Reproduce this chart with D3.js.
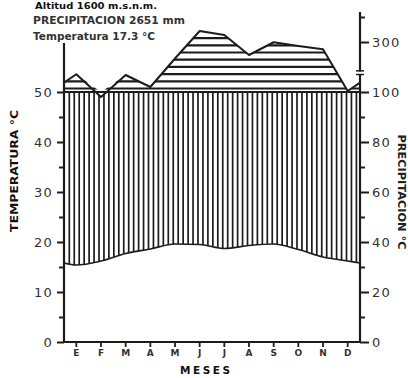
<!DOCTYPE html>
<html>
<head>
<meta charset="utf-8">
<script src="https://cdn.jsdelivr.net/npm/d3@7"></script>
<style>
  html, body { margin: 0; padding: 0; background: #fff; }
  svg { display: block; }
  text { font-family: "DejaVu Sans", "Liberation Sans", sans-serif; }
</style>
</head>
<body>
<script>
// ---- data ----
const months = ["E", "F", "M", "A", "M", "J", "J", "A", "S", "O", "N", "D"];
const temperature = [15.4, 16.2, 17.7, 18.6, 19.6, 19.5, 18.7, 19.3, 19.6, 18.5, 17.0, 16.2];
const precipitation = [171, 98, 168, 120, 234, 344, 328, 248, 299, 284, 271, 104];
const tempTicks = [0, 10, 20, 30, 40, 50];
const tempMinorTicks = [5, 15, 25, 35, 45];
const precTicks = [0, 20, 40, 60, 80, 100, 300];
const precMinorTicks = [10, 30, 50, 70, 90, 400];
const headerLines = ["Altitud 1600 m.s.n.m.", "PRECIPITACION 2651 mm", "Temperatura 17.3 °C"];

// ---- setup ----
const W = 408, H = 378;
const ink = "#1c1c1c";
const svg = d3.select("body").append("svg").attr("width", W).attr("height", H);

const x = d3.scaleLinear().domain([0, 12]).range([64, 360]);
const band = d3.scaleBand().domain(d3.range(12)).range([64, 360]);
const yT = d3.scaleLinear().domain([0, 50]).range([342, 92]);
const yP = d3.scaleLinear().domain([0, 100, 420]).range([342, 92, 12]);

// series with wrap-around edge points (Walter-Lieth convention)
const tEdge = (temperature[0] + temperature[11]) / 2;
const pEdge = (precipitation[0] + precipitation[11]) / 2;
const tSeries = [[0, tEdge]].concat(temperature.map((v, i) => [i + 0.5, v]), [[12, tEdge]]);
const pSeries = [[0, pEdge]].concat(precipitation.map((v, i) => [i + 0.5, v]), [[12, pEdge]]);

const defs = svg.append("defs");
defs.append("clipPath").attr("id", "aboveT").append("path")
  .attr("d", d3.area().x(d => x(d[0])).y0(0).y1(d => yT(d[1])).curve(d3.curveMonotoneX)(tSeries));
defs.append("clipPath").attr("id", "belowP").append("path")
  .attr("d", d3.area().x(d => x(d[0])).y0(H).y1(d => yP(d[1]))(pSeries));
defs.append("clipPath").attr("id", "perhumid").append("path")
  .attr("d", d3.area().x(d => x(d[0])).y0(yP(100)).y1(d => yP(Math.max(100, d[1])))(pSeries));

// vertical hatching (humid period)
const vg = svg.append("g").attr("clip-path", "url(#aboveT)")
  .append("g").attr("clip-path", "url(#belowP)");
vg.selectAll("line").data(d3.range(x(0) + 5.3, x(12), 4.95)).join("line")
  .attr("x1", d => d).attr("x2", d => d)
  .attr("y1", yP(100)).attr("y2", yT(0))
  .attr("stroke", ink).attr("stroke-width", 1.7);

// horizontal hatching (perhumid, >100 mm)
const hg = svg.append("g").attr("clip-path", "url(#perhumid)");
hg.selectAll("line").data(d3.range(yP(100) - 3.5, 0, -7.2)).join("line")
  .attr("x1", x(0)).attr("x2", x(12))
  .attr("y1", d => d).attr("y2", d => d)
  .attr("stroke", ink).attr("stroke-width", 2.2);

// 100 mm / 50 °C line
svg.append("line").attr("x1", x(0)).attr("x2", x(12))
  .attr("y1", yP(100)).attr("y2", yP(100))
  .attr("stroke", ink).attr("stroke-width", 2.2);

// temperature curve
svg.append("path")
  .attr("d", d3.line().x(d => x(d[0])).y(d => yT(d[1])).curve(d3.curveMonotoneX)(tSeries))
  .attr("fill", "none").attr("stroke", ink).attr("stroke-width", 1.6);

// precipitation line
svg.append("path")
  .attr("d", d3.line().x(d => x(d[0])).y(d => yP(d[1]))(pSeries))
  .attr("fill", "none").attr("stroke", ink).attr("stroke-width", 2)
  .attr("stroke-linejoin", "round");

// ---- axes ----
function styleAxis(g) {
  g.select(".domain").remove();
  g.selectAll(".tick line").attr("stroke", ink).attr("stroke-width", 2);
  g.selectAll(".tick text").attr("fill", "#333").attr("font-size", 13)
    .attr("letter-spacing", 1.2).attr("font-family", "DejaVu Sans, sans-serif");
}
svg.append("line").attr("x1", x(0)).attr("x2", x(0)).attr("y1", yT(0) + 1).attr("y2", 43)
  .attr("stroke", ink).attr("stroke-width", 2.2);
svg.append("g").attr("transform", `translate(${x(0)},0)`)
  .call(d3.axisLeft(yT).tickValues(tempTicks).tickSize(7).tickPadding(4).tickFormat(d3.format("d")))
  .call(styleAxis);
svg.append("g").attr("transform", `translate(${x(0)},0)`)
  .call(d3.axisLeft(yT).tickValues(tempMinorTicks).tickSize(5).tickFormat(""))
  .call(styleAxis);

svg.append("line").attr("x1", x(12)).attr("x2", x(12)).attr("y1", yP(0) + 1).attr("y2", yP(420))
  .attr("stroke", ink).attr("stroke-width", 2.2);
svg.append("rect").attr("x", x(12) - 5).attr("y", 71.5).attr("width", 10).attr("height", 2.5).attr("fill", "#fff");
[70.8, 74.5].forEach(yy => svg.append("line")
  .attr("x1", x(12) - 4).attr("x2", x(12) + 4).attr("y1", yy).attr("y2", yy)
  .attr("stroke", ink).attr("stroke-width", 1.5));
svg.append("g").attr("transform", `translate(${x(12)},0)`)
  .call(d3.axisRight(yP).tickValues(precTicks).tickSize(9).tickPadding(3).tickFormat(d3.format("d")))
  .call(styleAxis);
svg.append("g").attr("transform", `translate(${x(12)},0)`)
  .call(d3.axisRight(yP).tickValues(precMinorTicks).tickSize(5).tickFormat(""))
  .call(styleAxis);

svg.append("line").attr("x1", x(0) - 1).attr("x2", x(12) + 1).attr("y1", yT(0)).attr("y2", yT(0))
  .attr("stroke", ink).attr("stroke-width", 2.2);
const bx = svg.append("g").attr("transform", `translate(0,${yT(0)})`)
  .call(d3.axisBottom(band).tickSize(5).tickPadding(3).tickFormat(i => months[i]));
bx.select(".domain").remove();
bx.selectAll(".tick line").attr("stroke", ink).attr("stroke-width", 1.8);
bx.selectAll(".tick text").attr("fill", "#333").attr("font-size", 9).attr("font-weight", "bold");

// ---- texts ----
const hdr = [[9, 122, 9.5], [24, 152, 10.5], [40, 122, 10]];
headerLines.forEach((t, i) => {
  svg.append("text").attr("x", i === 0 ? 35 : 33).attr("y", hdr[i][0])
    .attr("font-size", hdr[i][2]).attr("font-weight", "bold").attr("fill", i === 0 ? "#111" : "#333")
    .attr("textLength", hdr[i][1]).attr("lengthAdjust", "spacingAndGlyphs")
    .text(t);
});

svg.append("text")
  .attr("transform", "translate(13.5,171) rotate(-90)")
  .attr("text-anchor", "middle").attr("dominant-baseline", "central")
  .attr("font-size", 10.5).attr("font-weight", 900).attr("fill", "#111")
  .attr("textLength", 122).attr("lengthAdjust", "spacingAndGlyphs")
  .text("TEMPERATURA °C");

svg.append("text")
  .attr("transform", "translate(401,192) rotate(90)")
  .attr("text-anchor", "middle").attr("dominant-baseline", "central")
  .attr("font-size", 10).attr("font-weight", 900).attr("fill", "#222")
  .attr("textLength", 115).attr("lengthAdjust", "spacingAndGlyphs")
  .text("PRECIPITACION °C");

svg.append("text")
  .attr("x", 205).attr("y", 370)
  .attr("text-anchor", "middle").attr("dominant-baseline", "central")
  .attr("font-size", 10.5).attr("font-weight", 900).attr("fill", "#111")
  .attr("textLength", 50).attr("lengthAdjust", "spacing")
  .text("MESES");
</script>
</body>
</html>
